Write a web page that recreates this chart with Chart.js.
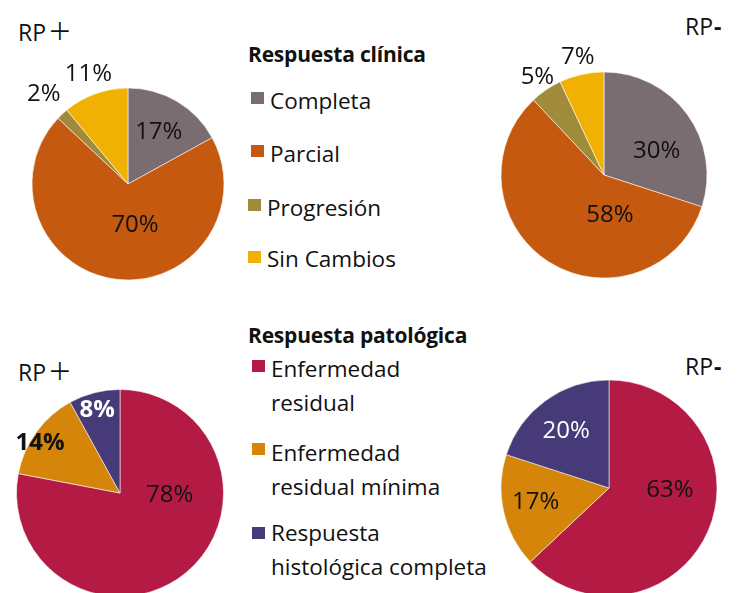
<!DOCTYPE html>
<html>
<head>
<meta charset="utf-8">
<script src="https://cdn.jsdelivr.net/npm/chart.js@4.4.1/dist/chart.umd.min.js"></script>
<style>
  body { margin:0; width:739px; height:593px; overflow:hidden; background:#fff; position:relative; font-family:'Open Sans', sans-serif; color:#111; }
  .abs { position:absolute; white-space:nowrap; }
  .pie { position:absolute; width:300px; height:300px; }
  .rp { font-size:23px; line-height:22px; }
  .plus { font-weight:200; font-size:38px; margin-left:3px; position:relative; top:4px; }
  .minus { font-weight:bold; margin-left:1px; }
  .title { font-size:21px; line-height:20px; font-weight:bold; letter-spacing:-0.2px; }
  .item { font-size:22.5px; line-height:22px; }
  .item2 { font-size:22.5px; line-height:34px; }
  .mk { position:absolute; width:13px; height:12px; }
</style>
</head>
<body>
<div class="abs rp" style="left:18px;top:15px">RP<span class="plus">+</span></div>
<div class="abs rp" style="left:685px;top:15px">RP<span class="minus">-</span></div>
<div class="abs rp" style="left:18px;top:355px">RP<span class="plus">+</span></div>
<div class="abs rp" style="left:685px;top:355px">RP<span class="minus">-</span></div>

<div id="legend1"></div>
<div id="legend2"></div>

<div class="pie" id="p1"><canvas id="c1" width="300" height="300"></canvas></div>
<div class="pie" id="p2"><canvas id="c2" width="300" height="300"></canvas></div>
<div class="pie" id="p3"><canvas id="c3" width="300" height="300"></canvas></div>
<div class="pie" id="p4"><canvas id="c4" width="300" height="300"></canvas></div>

<script>
// Data
const clinicalTitle = 'Respuesta clínica';
const clinicalLabels = ['Completa', 'Parcial', 'Progresión', 'Sin Cambios'];
const clinicalRPpos = [17, 70, 2, 11];
const clinicalRPneg = [30, 58, 5, 7];

const pathTitle = 'Respuesta patológica';
const pathLabels = [['Enfermedad', 'residual'], ['Enfermedad', 'residual mínima'], ['Respuesta', 'histológica completa']];
const pathRPpos = [78, 14, 8];
const pathRPneg = [63, 17, 20];

// Colors
const clinicalColors = ['#7a6d72', '#c5590f', '#a08b3b', '#f0b103'];
const pathColors = ['#b31b45', '#d4850a', '#463a78'];

// Legends
function buildLegend(el, title, titleTop, labels, colors, rows) {
  let html = `<div class="abs title" style="left:248px;top:${titleTop}px">${title}</div>`;
  labels.forEach((lab, i) => {
    const r = rows[i];
    html += `<div class="mk" style="left:${r.mx}px;top:${r.my}px;background:${colors[i]}"></div>`;
    const txt = Array.isArray(lab) ? lab.join('<br>') : lab;
    html += `<div class="abs ${r.cls}" style="left:${r.tx}px;top:${r.ty}px">${txt}</div>`;
  });
  document.getElementById(el).innerHTML = html;
}
buildLegend('legend1', clinicalTitle, 44, clinicalLabels, clinicalColors, [
  { mx:251, my:92,  tx:270, ty:90,  cls:'item' },
  { mx:251, my:145, tx:270, ty:143, cls:'item' },
  { mx:248, my:199, tx:267, ty:197, cls:'item' },
  { mx:248, my:251, tx:267, ty:248, cls:'item' }
]);
buildLegend('legend2', pathTitle, 325, pathLabels, pathColors, [
  { mx:252, my:360, tx:271, ty:352, cls:'item2' },
  { mx:252, my:443, tx:271, ty:436, cls:'item2' },
  { mx:252, my:527, tx:271, ty:516, cls:'item2' }
]);

// Slice label plugin: f = fraction of radius, s = angle shift (deg)
const sliceLabels = {
  id: 'sliceLabels',
  afterDatasetsDraw(chart, args, opts) {
    const ctx = chart.ctx;
    const meta = chart.getDatasetMeta(0);
    const values = chart.data.datasets[0].data;
    meta.data.forEach((arc, i) => {
      const p = opts.place[i];
      const { x, y, startAngle, endAngle, outerRadius } = arc.getProps(['x', 'y', 'startAngle', 'endAngle', 'outerRadius'], true);
      const a = (startAngle + endAngle) / 2 + (p.s || 0) * Math.PI / 180;
      const px = x + Math.cos(a) * outerRadius * p.f;
      const py = y + Math.sin(a) * outerRadius * p.f;
      ctx.save();
      ctx.font = (p.bold ? 'bold ' : '') + '24px "Open Sans", sans-serif';
      ctx.fillStyle = p.color || '#111';
      ctx.textAlign = 'center';
      ctx.textBaseline = 'middle';
      ctx.fillText(values[i] + '%', px, py);
      ctx.restore();
    });
  }
};

function makePie(id, boxId, cx, cy, radius, values, colors, place) {
  const box = document.getElementById(boxId);
  box.style.left = (cx - 150) + 'px';
  box.style.top = (cy - 150) + 'px';
  new Chart(document.getElementById(id), {
    type: 'pie',
    data: {
      datasets: [{
        data: values,
        backgroundColor: colors,
        borderColor: 'rgba(255,255,255,0.7)',
        borderWidth: 0.8
      }]
    },
    options: {
      responsive: false,
      animation: false,
      radius: radius,
      layout: { padding: 0 },
      plugins: {
        legend: { display: false },
        tooltip: { enabled: false },
        sliceLabels: { place: place }
      }
    },
    plugins: [sliceLabels]
  });
}

makePie('c1', 'p1', 128, 184, 96, clinicalRPpos, clinicalColors, [
  { f:0.63 }, { f:0.43, s:-17 }, { f:1.28 }, { f:1.22 }
]);
makePie('c2', 'p2', 604, 175, 103, clinicalRPneg, clinicalColors, [
  { f:0.56, s:12 }, { f:0.39, s:-41 }, { f:1.15 }, { f:1.17 }
]);
makePie('c3', 'p3', 120, 493, 103.5, pathRPpos, pathColors, [
  { f:0.48, s:-48 }, { f:0.91, s:-4, bold:true }, { f:0.83, s:-1, bold:true, color:'#fff' }
]);
makePie('c4', 'p4', 609, 488, 108, pathRPneg, pathColors, [
  { f:0.565, s:-21 }, { f:0.69, s:2 }, { f:0.66, s:-1, color:'#fff' }
]);
</script>
</body>
</html>
